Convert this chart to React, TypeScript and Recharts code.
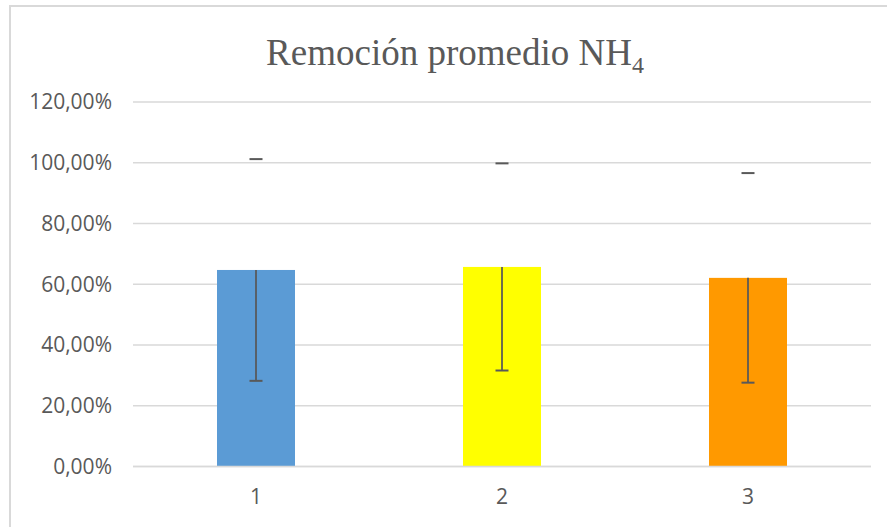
import React from 'react';
import { BarChart, Bar, XAxis, YAxis, CartesianGrid } from 'recharts';

const categories = ['1', '2', '3'];
const values = [64.7, 65.7, 62.1];
const errors = [36.5, 34.1, 34.5];
const colors = ['#5B9BD5', '#FFFF00', '#FF9900'];
const yTicks = [0, 20, 40, 60, 80, 100, 120];

const data = categories.map((c, i) => ({ name: c, value: values[i], err: errors[i] }));

const fmt = (v: number) => `${v.toFixed(2).replace('.', ',')}%`;

const BarWithError = (props: any) => {
  const { x, y, width, height, payload, index } = props;
  const ppu = height / payload.value;
  const cx = x + width / 2;
  const lowY = y + payload.err * ppu;
  const highY = y - payload.err * ppu;
  const cap = 6.5;
  const ec = '#595959';
  return (
    <g>
      <rect x={x} y={y} width={width} height={height} fill={colors[index]} />
      <line x1={cx} x2={cx} y1={y} y2={lowY} stroke={ec} strokeWidth={1.75} />
      <line x1={cx - cap} x2={cx + cap} y1={lowY} y2={lowY} stroke={ec} strokeWidth={2} />
      <line x1={cx - cap} x2={cx + cap} y1={highY} y2={highY} stroke={ec} strokeWidth={2} />
    </g>
  );
};

export default function App() {
  const tickStyle = { fill: '#595959', fontSize: 21, fontFamily: 'Open Sans' };
  return (
    <div style={{ position: 'absolute', left: 0, top: 0, width: 887, height: 527, background: '#fff', overflow: 'hidden' }}>
      <div
        style={{
          position: 'absolute',
          left: 9,
          top: 5,
          width: 900,
          height: 540,
          borderLeft: '2px solid #d9d9d9',
          borderTop: '2px solid #d9d9d9',
        }}
      />
      <div style={{ position: 'absolute', left: 0, top: 0 }}>
        <BarChart
          width={887}
          height={527}
          data={data}
          margin={{ top: 102, right: 16, bottom: 30.5, left: 0 }}
        >
          <CartesianGrid vertical={false} stroke="#d9d9d9" strokeWidth={1.5} />
          <XAxis
            dataKey="name"
            axisLine={{ stroke: '#d9d9d9', strokeWidth: 1.5 }}
            tickLine={false}
            tickSize={0}
            tickMargin={23}
            height={30}
            tick={tickStyle}
          />
          <YAxis
            width={133}
            domain={[0, 120]}
            ticks={yTicks}
            tickFormatter={fmt}
            axisLine={false}
            tickLine={false}
            tickSize={0}
            tickMargin={21}
            tick={tickStyle}
          />
          <Bar dataKey="value" barSize={78} isAnimationActive={false} shape={<BarWithError />} />
        </BarChart>
      </div>
      <svg style={{ position: 'absolute', left: 0, top: 0, pointerEvents: 'none' }} width={887} height={527}>
        <text
          x={455}
          y={65}
          textAnchor="middle"
          fill="#595959"
          fontFamily="'Liberation Serif', 'Times New Roman', serif"
          fontSize={37}
        >
          Remoción promedio NH
          <tspan fontSize={24} dy={8}>4</tspan>
        </text>
      </svg>
    </div>
  );
}
